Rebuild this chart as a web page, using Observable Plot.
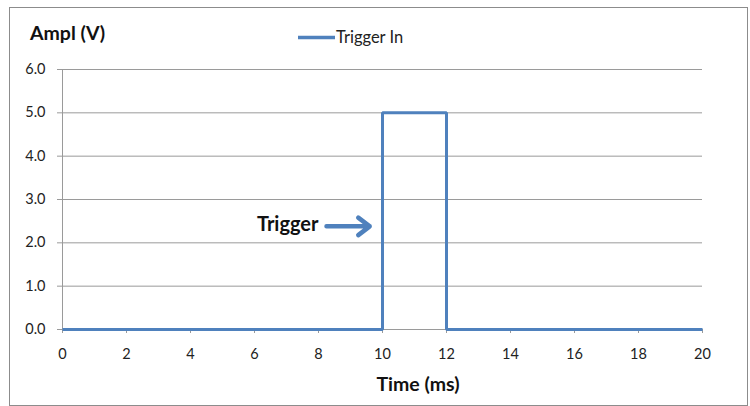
<!DOCTYPE html>
<html><head><meta charset="utf-8">
<script src="https://cdn.jsdelivr.net/npm/d3@7"></script>
<script src="https://cdn.jsdelivr.net/npm/@observablehq/plot@0.6"></script>
<style>
body{margin:0;background:#fff;}
svg{font-family:Lato,"Open Sans",sans-serif;}
</style></head><body>
<div id="chart"></div>
<script>
const timeMs = [0, 10, 10, 12, 12, 20];
const amplV = [0, 0, 5, 5, 0, 0];
const xTicks = [0, 2, 4, 6, 8, 10, 12, 14, 16, 18, 20];
const yTicks = [0, 1, 2, 3, 4, 5, 6];
const seriesName = "Trigger In";
const annotation = {label: "Trigger", x: 8.0, y: 2.43, arrowX1: 8.25, arrowX2: 9.6, arrowY: 2.38};

const data = timeMs.map((t, i) => ({t, v: amplV[i]}));
const blue = "#4F81BD";
const grid = "#9a9a9a";

const plot = Plot.plot({
  width: 750, height: 406,
  marginLeft: 62, marginRight: 48, marginTop: 69, marginBottom: 77,
  style: {fontFamily: "Lato, 'Open Sans', sans-serif", fontSize: "14.5px", color: "#222", background: "#fff"},
  x: {domain: [0, 20], label: null},
  y: {domain: [0, 6], label: null},
  marks: [
    Plot.ruleY(yTicks, {stroke: grid, strokeWidth: 1}),
    Plot.ruleX([0], {stroke: grid, strokeWidth: 1}),
    Plot.axisX({ticks: xTicks, tickFormat: d => d, tickSize: 4, tickPadding: 15, stroke: grid, fill: "#222", fontSize: 14.5, label: null}),
    Plot.axisY({ticks: yTicks, tickFormat: d => d.toFixed(1), tickSize: 5, tickPadding: 12, stroke: grid, fill: "#222", fontSize: 14.5, label: null}),
    Plot.line(data, {x: "t", y: "v", stroke: blue, strokeWidth: 3, strokeLinejoin: "miter", strokeLinecap: "butt"}),
    Plot.text([annotation], {x: "x", y: "y", text: "label", textAnchor: "end", fontWeight: "bold", fontSize: 20, fill: "#111"}),
    Plot.arrow([annotation], {x1: "arrowX1", x2: "arrowX2", y1: "arrowY", y2: "arrowY", stroke: blue, strokeWidth: 4.5, headLength: 13, headAngle: 75})
  ]
});

const svg = d3.select(plot);
svg.insert("rect", ":first-child")
  .attr("x", 9.5).attr("y", 7.5).attr("width", 738).attr("height", 398)
  .attr("fill", "none").attr("stroke", "#8c8c8c");
svg.append("text").attr("x", 30).attr("y", 40).attr("text-anchor", "start").attr("font-weight", "bold").attr("font-size", 19.5).attr("fill", "#111").text("Ampl (V)");
svg.append("text").attr("x", 418).attr("y", 391).attr("text-anchor", "middle").attr("font-weight", "bold").attr("font-size", 19.5).attr("fill", "#111").text("Time (ms)");
svg.append("line").attr("x1", 298).attr("x2", 335).attr("y1", 37.5).attr("y2", 37.5).attr("stroke", blue).attr("stroke-width", 3.5);
svg.append("text").attr("x", 336).attr("y", 43).attr("text-anchor", "start").attr("font-size", 16.5).attr("fill", "#222").text(seriesName);
document.getElementById("chart").appendChild(plot);
</script>
</body></html>
